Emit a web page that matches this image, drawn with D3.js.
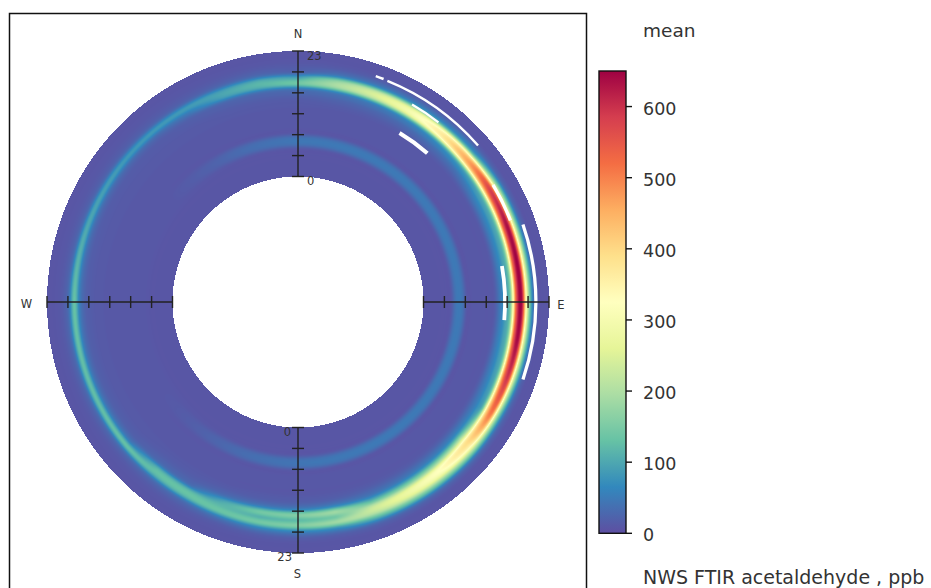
<!DOCTYPE html>
<html><head><meta charset="utf-8">
<script src="https://cdn.jsdelivr.net/npm/d3@7"></script>
<style>html,body{margin:0;padding:0;background:#fff;} svg{display:block;font-family:"DejaVu Sans",Verdana,sans-serif;}</style>
</head><body><svg id="chart" width="931" height="588"></svg>
<script>
// ---------------- data ----------------
const directions = [0,10,20,30,40,50,60,70,80,90,100,110,120,130,140,150,160,170,180,190,200,210,220,230,240,250,260,270,280,290,300,310,320,330,340,350];
const hours = [0,1,2,3,4,5,6,7,8,9,10,11,12,13,14,15,16,17,18,19,20,21,22,23];
// mean acetaldehyde (ppb): one row per wind direction, one value per hour of day
const meanByDirection = [
  [8,8,8,8,8,10,42,42,10,10,10,10,10,12,14,24,44,138,98,26,15,10,8,8],
  [8,8,8,8,8,10,43,43,10,10,10,10,10,12,18,29,58,185,175,58,21,10,8,8],
  [8,8,8,8,8,10,44,44,10,10,10,10,10,12,20,34,70,226,226,70,24,10,8,8],
  [8,8,8,8,8,10,44,44,10,10,10,10,10,12,22,39,83,271,271,83,27,10,8,8],
  [8,8,8,8,8,10,44,44,10,10,10,10,10,12,25,46,100,334,334,100,32,10,8,8],
  [8,8,8,8,8,10,44,44,10,10,10,10,10,12,28,56,125,424,424,125,38,10,8,8],
  [8,8,8,8,8,10,44,44,10,10,10,10,10,14,44,77,150,486,570,234,55,12,8,8],
  [8,8,8,8,8,10,44,44,10,10,10,10,10,14,47,83,163,529,620,254,59,12,8,8],
  [8,8,8,8,8,10,44,44,10,10,10,10,10,14,48,85,166,541,635,260,60,12,8,8],
  [8,8,8,8,8,10,44,44,10,10,10,10,10,14,48,86,168,546,640,262,60,12,8,8],
  [8,8,8,8,8,10,44,44,10,10,10,10,10,14,47,84,164,533,625,256,59,12,8,8],
  [8,8,8,8,8,10,44,44,10,10,10,10,10,14,44,78,152,494,580,238,56,12,8,8],
  [8,8,8,8,8,10,44,44,10,10,10,10,10,14,39,69,132,426,500,206,49,12,8,8],
  [8,8,8,8,8,10,44,44,10,10,10,10,10,14,39,84,215,379,359,195,51,12,8,8],
  [8,8,8,8,8,10,44,44,10,10,10,10,10,14,34,71,180,316,299,163,44,12,8,8],
  [8,8,8,8,8,10,44,44,10,10,10,10,10,14,30,62,155,271,257,141,39,12,8,8],
  [8,8,8,8,8,10,43,43,10,10,10,10,10,14,27,53,130,226,214,118,34,12,8,8],
  [8,8,8,8,8,10,42,42,10,10,10,10,10,14,25,67,181,143,181,77,25,10,8,8],
  [8,8,8,8,8,10,40,40,10,10,10,10,10,14,23,58,154,122,154,66,23,10,8,8],
  [8,8,8,8,8,10,36,36,10,10,10,10,10,14,22,54,141,112,141,61,22,10,8,8],
  [8,8,8,8,8,10,31,31,10,10,10,10,10,12,20,40,100,120,130,50,18,10,8,8],
  [8,8,8,8,8,10,24,24,10,10,10,10,10,12,15,22,41,122,122,41,18,10,8,8],
  [8,8,8,8,8,10,17,17,10,10,10,10,10,12,15,22,40,118,118,40,17,10,8,8],
  [8,8,8,8,8,10,12,12,10,10,10,10,10,12,12,16,22,51,128,40,16,10,8,8],
  [8,8,8,8,8,10,10,10,10,10,10,10,10,12,12,16,22,50,125,39,16,10,8,8],
  [8,8,8,8,8,10,10,10,10,10,10,10,10,12,12,16,22,50,125,39,16,10,8,8],
  [8,8,8,8,8,10,10,10,10,10,10,10,10,12,12,16,22,51,128,40,16,10,8,8],
  [8,8,8,8,8,10,10,10,10,10,10,10,10,12,12,16,22,52,130,40,16,10,8,8],
  [8,8,8,8,8,10,10,10,10,10,10,10,10,12,12,15,21,47,115,36,15,10,8,8],
  [8,8,8,8,8,10,10,10,10,10,10,10,10,12,12,15,19,42,100,33,15,10,8,8],
  [8,8,8,8,8,10,10,10,10,10,10,10,10,12,12,14,18,38,90,30,14,10,8,8],
  [8,8,8,8,8,10,11,11,10,10,10,10,10,12,12,14,17,35,82,28,14,10,8,8],
  [8,8,8,8,8,10,16,16,10,10,10,10,10,12,12,14,17,35,82,28,14,10,8,8],
  [8,8,8,8,8,10,22,22,10,10,10,10,10,12,12,16,22,50,84,28,14,10,8,8],
  [8,8,8,8,8,10,31,31,10,10,10,10,10,12,14,19,32,91,91,32,15,10,8,8],
  [8,8,8,8,8,10,37,37,10,10,10,10,10,12,14,21,37,109,109,37,17,10,8,8]
];
// missing-data streaks (white): direction range (deg) and hour range
const gapFrom   = [19, 22, 30, 31, 59, 71, 80];
const gapTo     = [21, 49, 38, 41, 69, 109, 95];
const gapHourLo = [20.55, 20.5, 18.6, 12.75, 18.4, 20.3, 14.6];
const gapHourHi = [21.0, 20.95, 19.0, 13.5, 19.0, 20.9, 15.3];

const colourTicks = [0,100,200,300,400,500,600];
const colourMax = 650;
const compassLabels = ["N","E","S","W"];
const radialLabels = ["0","23"];
const legendTitle = "mean";
const pollutantLabel = "NWS FTIR acetaldehyde , ppb";
const spectral = ["#5E4FA2","#3288BD","#66C2A5","#ABDDA4","#E6F598","#FFFFBF","#FEE08B","#FDAE61","#F46D43","#D53E4F","#9E0142"];

// ---------------- layout ----------------
const cx = 298, cy = 302, rIn = 125.5, rOut = 251;
const rScale = d3.scaleLinear().domain([hours[0], hours[hours.length-1]]).range([rIn, rOut]);
const dirScale = d3.scaleLinear().domain([0, 360]).range([0, directions.length]);
const color = d3.scaleSequential(d3.piecewise(d3.interpolateRgb, spectral)).domain([0, colourMax]).clamp(true);

const svg = d3.select("#chart");
svg.append("rect").attr("width",931).attr("height",588).attr("fill","#fff");

// smooth surface (like openair's fitted surface)
function cr(p0,p1,p2,p3,t){const t2=t*t,t3=t2*t;return 0.5*((2*p1)+(-p0+p2)*t+(2*p0-5*p1+4*p2-p3)*t2+(-p0+3*p1-3*p2+p3)*t3);}
function radial(row,h){
  const n=row.length-1, i=Math.floor(h), t=h-i;
  if(i>=n) return row[n];
  const g=k=>row[Math.max(0,Math.min(n,k))];
  return cr(g(i-1),g(i),g(i+1),g(i+2),t);
}
function valueAt(deg,h){
  const f=dirScale(deg), j=Math.floor(f)%directions.length, t=f-Math.floor(f), j2=(j+1)%directions.length;
  return (1-t)*radial(meanByDirection[j],h)+t*radial(meanByDirection[j2],h);
}
const lut = d3.range(1024).map(k=>d3.rgb(color(k*colourMax/1023)));
const size = Math.ceil(2*rOut)+4, x0 = Math.floor(cx-rOut)-2, y0 = Math.floor(cy-rOut)-2;
const canvas = document.createElement("canvas"); canvas.width=size; canvas.height=size;
const ctx = canvas.getContext("2d"); const img = ctx.createImageData(size,size);
for(let py=0;py<size;py++){for(let px=0;px<size;px++){
  const dx=x0+px+0.5-cx, dy=cy-(y0+py+0.5), r=Math.hypot(dx,dy);
  if(r<rIn||r>rOut) continue;
  const deg=(Math.atan2(dx,dy)*180/Math.PI+360)%360;
  const v=Math.max(0,Math.min(colourMax,valueAt(deg,rScale.invert(r))));
  const c=lut[Math.round(v/colourMax*1023)], o=(py*size+px)*4;
  img.data[o]=c.r; img.data[o+1]=c.g; img.data[o+2]=c.b; img.data[o+3]=255;
}}
ctx.putImageData(img,0,0);
svg.append("image").attr("x",x0).attr("y",y0).attr("width",size).attr("height",size)
  .attr("href",canvas.toDataURL());

// missing data
const arc = d3.arc();
svg.append("g").attr("transform",`translate(${cx},${cy})`).selectAll("path")
  .data(d3.range(gapFrom.length)).join("path")
  .attr("d",i=>arc({innerRadius:rScale(gapHourLo[i]),outerRadius:rScale(gapHourHi[i]),startAngle:gapFrom[i]*Math.PI/180,endAngle:gapTo[i]*Math.PI/180}))
  .attr("fill","#fff");

// panel frame
svg.append("rect").attr("x",9.5).attr("y",13.5).attr("width",577).attr("height",600)
  .attr("fill","none").attr("stroke","#111").attr("stroke-width",1.5);

// radial axes with ticks
const tickPos = d3.scaleLinear().domain([0,6]).range([rIn,rOut]);
const ax = svg.append("g").attr("stroke","#222").attr("stroke-width",1.4);
[[0,-1],[1,0],[0,1],[-1,0]].forEach(([ux,uy])=>{
  ax.append("line").attr("x1",cx+ux*rIn).attr("y1",cy+uy*rIn).attr("x2",cx+ux*rOut).attr("y2",cy+uy*rOut);
  d3.range(7).forEach(k=>{
    const r=tickPos(k), px=cx+ux*r, py=cy+uy*r;
    ax.append("line").attr("x1",px-uy*6).attr("y1",py-ux*6).attr("x2",px+uy*6).attr("y2",py+ux*6);
  });
});
const lab = svg.append("g").attr("font-size",11.5).attr("fill","#333");
lab.append("text").attr("x",cx+9).attr("y",cy-rOut+8.5).text(radialLabels[1]);
lab.append("text").attr("x",cx+9).attr("y",cy-rIn+8).text(radialLabels[0]);
lab.append("text").attr("x",cx-7).attr("y",cy+rIn+8.5).attr("text-anchor","end").text(radialLabels[0]);
lab.append("text").attr("x",cx-6).attr("y",cy+rOut+7.5).attr("text-anchor","end").text(radialLabels[1]);
// compass
lab.append("text").attr("x",298).attr("y",38).attr("text-anchor","middle").text(compassLabels[0]);
lab.append("text").attr("x",561).attr("y",309).attr("text-anchor","middle").text(compassLabels[1]);
lab.append("text").attr("x",297.5).attr("y",578).attr("text-anchor","middle").text(compassLabels[2]);
lab.append("text").attr("x",26.5).attr("y",308).attr("text-anchor","middle").text(compassLabels[3]);

// colour key
const keyX=599, keyW=27, keyTop=71, keyBot=533.3;
const keyScale = d3.scaleLinear().domain([0,colourMax]).range([keyBot,keyTop]);
const grad = svg.append("defs").append("linearGradient").attr("id","kg").attr("x1",0).attr("y1",1).attr("x2",0).attr("y2",0);
grad.selectAll("stop").data(d3.range(0,1.0001,0.02)).join("stop")
  .attr("offset",d=>d).attr("stop-color",d=>color(d*colourMax));
svg.append("rect").attr("x",keyX).attr("y",keyTop).attr("width",keyW).attr("height",keyBot-keyTop)
  .attr("fill","url(#kg)").attr("stroke","#111").attr("stroke-width",1.4);
const kg = svg.append("g");
kg.selectAll("line").data(colourTicks).join("line")
  .attr("x1",keyX+keyW).attr("x2",keyX+keyW+6).attr("y1",d=>keyScale(d)).attr("y2",d=>keyScale(d))
  .attr("stroke","#111").attr("stroke-width",1.4);
kg.selectAll("text").data(colourTicks).join("text")
  .attr("x",643).attr("y",d=>keyScale(d)+8).attr("font-size",17.5).attr("fill","#333").text(d=>d);
svg.append("text").attr("x",643).attr("y",37).attr("font-size",18.5).attr("fill","#333").text(legendTitle);
svg.append("text").attr("x",643).attr("y",584).attr("font-size",19).attr("fill","#333").text(pollutantLabel);
</script></body></html>
